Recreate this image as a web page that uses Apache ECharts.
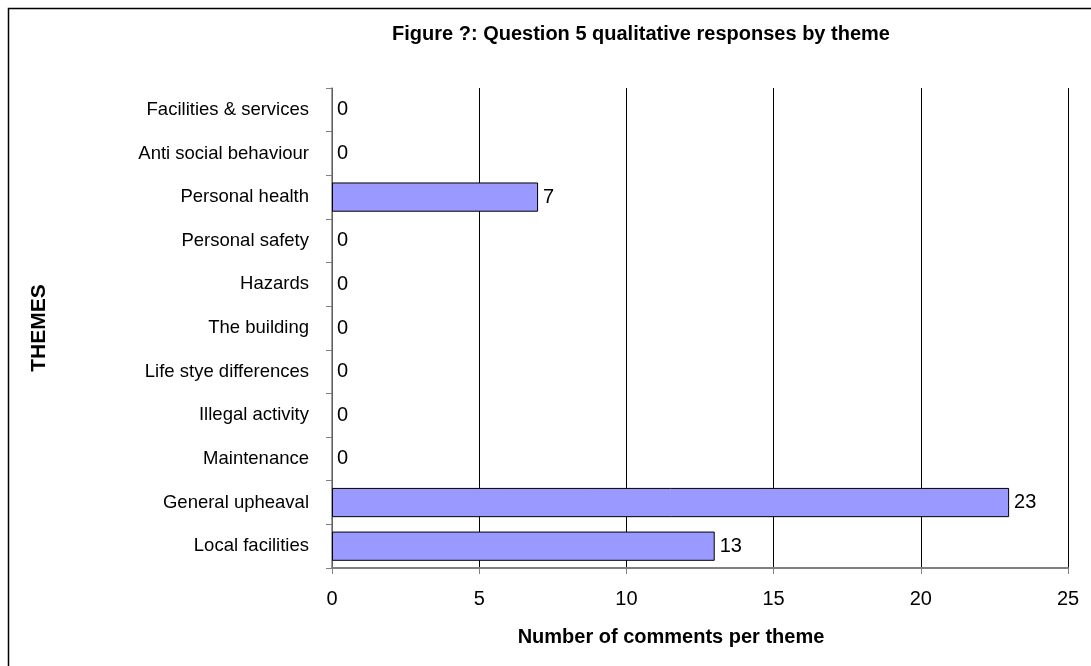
<!DOCTYPE html>
<html>
<head>
<meta charset="utf-8">
<script src="https://cdn.jsdelivr.net/npm/echarts@6/dist/echarts.min.js"></script>
<style>
html,body{margin:0;padding:0;background:#fff;}
#c{width:1091px;height:666px;}
</style>
</head>
<body>
<div id="c"></div>
<script>
const categories = ["Facilities & services","Anti social behaviour","Personal health","Personal safety","Hazards","The building","Life stye differences","Illegal activity","Maintenance","General upheaval","Local facilities"];
const values = [0,0,7,0,0,0,0,0,0,23,13];
const xTicks = [0,5,10,15,20,25];
const titleText = "Figure ?: Question 5 qualitative responses by theme";
const xName = "Number of comments per theme";
const yName = "THEMES";

const font = "'Liberation Sans', Arial, sans-serif";
const chart = echarts.init(document.getElementById('c'), null, {renderer:'canvas'});
const barData = values.map(v => ({
  value: v,
  itemStyle: v === 0 ? {borderWidth:0} : {}
}));
chart.setOption({
  animation:false,
  backgroundColor:'#fff',
  textStyle:{fontFamily:font},
  title:{
    text:titleText, left:636, top:19, textAlign:'center',
    textStyle:{fontFamily:font,fontSize:20,fontWeight:'bold',color:'#000'}
  },
  graphic:[{
    type:'rect', shape:{x:8.5,y:8.5,width:1300,height:1000},
    style:{fill:null,stroke:'#000',lineWidth:1.5}, silent:true
  }],
  grid:{left:332,right:23,top:88,bottom:98,containLabel:false},
  xAxis:{
    type:'value', min:xTicks[0], max:xTicks[xTicks.length-1], interval:5,
    name:xName, nameLocation:'middle', nameGap:59,
    nameTextStyle:{fontFamily:font,fontSize:20,fontWeight:'bold',color:'#000',padding:[0,58,0,0]},
    axisLine:{show:true,lineStyle:{color:'#808080',width:2}},
    axisTick:{show:true,length:6,lineStyle:{color:'#808080',width:1}},
    axisLabel:{fontFamily:font,fontSize:20,color:'#000',margin:21},
    splitLine:{show:true,lineStyle:{color:'#000',width:1}}
  },
  yAxis:{
    type:'category', data:categories, inverse:true,
    name:yName, nameLocation:'middle', nameGap:282, nameRotate:90,
    nameTextStyle:{fontFamily:font,fontSize:21,fontWeight:'bold',color:'#000'},
    axisLine:{show:true,lineStyle:{color:'#808080',width:1.5}},
    axisTick:{show:true,length:6,lineStyle:{color:'#808080',width:1}},
    axisLabel:{fontFamily:font,fontSize:18.5,color:'#000',margin:23},
    splitLine:{show:false}
  },
  series:[{
    type:'bar', data:barData, barCategoryGap:'33%',
    itemStyle:{color:'#9999FF',borderColor:'#000',borderWidth:1},
    label:{show:true,position:'right',distance:5,fontFamily:font,fontSize:20,color:'#000'}
  }]
});
</script>
</body>
</html>
